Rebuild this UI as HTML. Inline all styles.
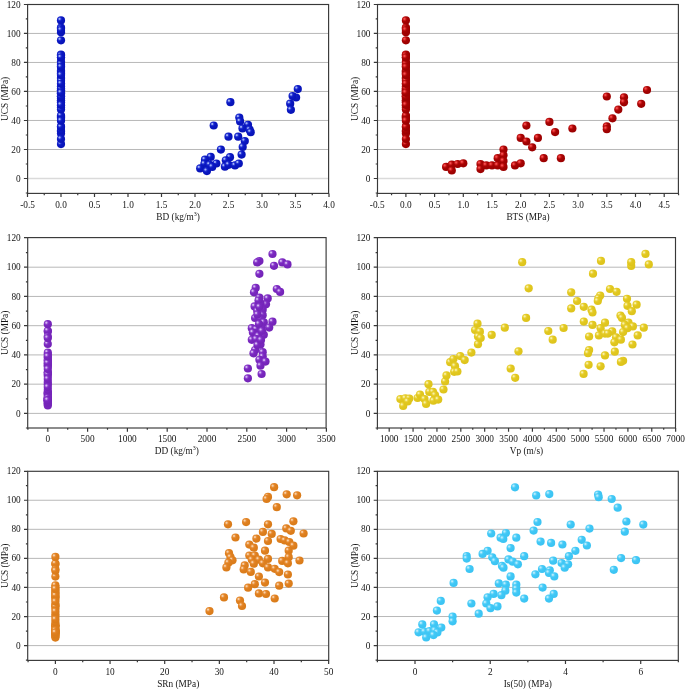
<!DOCTYPE html>
<html><head><meta charset="utf-8"><title>UCS scatter plots</title>
<style>
html,body{margin:0;padding:0;background:#fff;}
body{width:685px;height:689px;overflow:hidden;}
svg{display:block;will-change:transform;opacity:0.999;}
text{font-family:"Liberation Serif",serif;font-size:9.3px;fill:#161616;}
</style></head><body>
<svg width="685" height="689" viewBox="0 0 685 689">
<defs>
<radialGradient id="gb" cx="0.33" cy="0.33" r="0.6" fx="0.32" fy="0.31"><stop offset="0" stop-color="#a4b4f8"/><stop offset="0.1" stop-color="#a4b4f8"/><stop offset="0.3" stop-color="#2838d4"/><stop offset="0.52" stop-color="#0a18c4"/><stop offset="1" stop-color="#0814b8"/></radialGradient>
<circle id="sb" r="4.10" fill="url(#gb)"/>
<radialGradient id="gr" cx="0.33" cy="0.33" r="0.6" fx="0.32" fy="0.31"><stop offset="0" stop-color="#f45050"/><stop offset="0.1" stop-color="#f45050"/><stop offset="0.3" stop-color="#cc1c1c"/><stop offset="0.52" stop-color="#a80404"/><stop offset="1" stop-color="#9c0000"/></radialGradient>
<circle id="sr" r="4.10" fill="url(#gr)"/>
<radialGradient id="gp" cx="0.33" cy="0.33" r="0.6" fx="0.32" fy="0.31"><stop offset="0" stop-color="#d4b8f2"/><stop offset="0.1" stop-color="#d4b8f2"/><stop offset="0.3" stop-color="#9248d0"/><stop offset="0.52" stop-color="#7a28c0"/><stop offset="1" stop-color="#7424b8"/></radialGradient>
<circle id="sp" r="4.10" fill="url(#gp)"/>
<radialGradient id="gy" cx="0.33" cy="0.33" r="0.6" fx="0.32" fy="0.31"><stop offset="0" stop-color="#f8f0a8"/><stop offset="0.1" stop-color="#f8f0a8"/><stop offset="0.3" stop-color="#ebd440"/><stop offset="0.52" stop-color="#e2c820"/><stop offset="1" stop-color="#dec41c"/></radialGradient>
<circle id="sy" r="4.10" fill="url(#gy)"/>
<radialGradient id="go" cx="0.33" cy="0.33" r="0.6" fx="0.32" fy="0.31"><stop offset="0" stop-color="#f8d0a8"/><stop offset="0.1" stop-color="#f8d0a8"/><stop offset="0.3" stop-color="#e8923c"/><stop offset="0.52" stop-color="#e08020"/><stop offset="1" stop-color="#da7c1a"/></radialGradient>
<circle id="so" r="4.10" fill="url(#go)"/>
<radialGradient id="gc" cx="0.33" cy="0.33" r="0.6" fx="0.32" fy="0.31"><stop offset="0" stop-color="#b8ecfd"/><stop offset="0.1" stop-color="#b8ecfd"/><stop offset="0.3" stop-color="#64d4f9"/><stop offset="0.52" stop-color="#40c8f6"/><stop offset="1" stop-color="#3cc4f3"/></radialGradient>
<circle id="sc" r="4.10" fill="url(#gc)"/>
</defs>
<rect width="685" height="689" fill="#fff"/>
<g>
<line x1="27.60" y1="149.49" x2="328.60" y2="149.49" stroke="#b0b0b0" stroke-width="0.9"/>
<line x1="27.60" y1="120.48" x2="328.60" y2="120.48" stroke="#b0b0b0" stroke-width="0.9"/>
<line x1="27.60" y1="91.47" x2="328.60" y2="91.47" stroke="#b0b0b0" stroke-width="0.9"/>
<line x1="27.60" y1="62.46" x2="328.60" y2="62.46" stroke="#b0b0b0" stroke-width="0.9"/>
<line x1="27.60" y1="33.45" x2="328.60" y2="33.45" stroke="#b0b0b0" stroke-width="0.9"/>
<line x1="27.60" y1="178.50" x2="328.60" y2="178.50" stroke="#dadada" stroke-width="1.7"/>
<use href="#sb" x="61.0" y="65.0"/><use href="#sb" x="61.0" y="101.9"/><use href="#sb" x="61.0" y="61.5"/><use href="#sb" x="61.0" y="131.5"/><use href="#sb" x="61.0" y="117.2"/><use href="#sb" x="61.0" y="118.7"/><use href="#sb" x="61.0" y="100.5"/><use href="#sb" x="61.0" y="71.7"/><use href="#sb" x="61.0" y="20.4"/><use href="#sb" x="61.0" y="73.5"/><use href="#sb" x="61.0" y="83.8"/><use href="#sb" x="61.0" y="63.9"/><use href="#sb" x="61.0" y="54.5"/><use href="#sb" x="61.0" y="95.8"/><use href="#sb" x="61.0" y="144.1"/><use href="#sb" x="61.0" y="116.6"/><use href="#sb" x="61.0" y="78.8"/><use href="#sb" x="61.0" y="102.5"/><use href="#sb" x="61.0" y="77.7"/><use href="#sb" x="61.0" y="107.5"/><use href="#sb" x="61.0" y="72.1"/><use href="#sb" x="61.0" y="88.7"/><use href="#sb" x="61.0" y="93.4"/><use href="#sb" x="61.0" y="94.0"/><use href="#sb" x="61.0" y="105.2"/><use href="#sb" x="61.0" y="133.5"/><use href="#sb" x="61.0" y="90.3"/><use href="#sb" x="61.0" y="100.5"/><use href="#sb" x="61.0" y="74.1"/><use href="#sb" x="61.0" y="27.5"/><use href="#sb" x="61.0" y="98.5"/><use href="#sb" x="61.0" y="92.8"/><use href="#sb" x="61.0" y="130.4"/><use href="#sb" x="61.0" y="115.6"/><use href="#sb" x="61.0" y="66.6"/><use href="#sb" x="61.0" y="55.3"/><use href="#sb" x="61.0" y="96.4"/><use href="#sb" x="61.0" y="109.5"/><use href="#sb" x="61.0" y="96.4"/><use href="#sb" x="61.0" y="92.0"/><use href="#sb" x="61.0" y="93.6"/><use href="#sb" x="61.0" y="70.6"/><use href="#sb" x="61.0" y="126.4"/><use href="#sb" x="61.0" y="86.3"/><use href="#sb" x="61.0" y="90.3"/><use href="#sb" x="61.0" y="40.3"/><use href="#sb" x="61.0" y="28.5"/><use href="#sb" x="61.0" y="67.0"/><use href="#sb" x="61.0" y="88.7"/><use href="#sb" x="61.0" y="127.0"/><use href="#sb" x="61.0" y="96.8"/><use href="#sb" x="61.0" y="80.8"/><use href="#sb" x="61.0" y="57.5"/><use href="#sb" x="61.0" y="92.8"/><use href="#sb" x="61.0" y="120.7"/><use href="#sb" x="61.0" y="32.2"/><use href="#sb" x="61.0" y="30.1"/><use href="#sb" x="61.0" y="105.0"/><use href="#sb" x="61.0" y="83.8"/><use href="#sb" x="61.0" y="57.5"/><use href="#sb" x="61.0" y="139.0"/><use href="#sb" x="61.0" y="75.1"/><use href="#sb" x="297.8" y="89.1"/><use href="#sb" x="296.1" y="97.5"/><use href="#sb" x="292.6" y="96.1"/><use href="#sb" x="290.2" y="103.7"/><use href="#sb" x="290.9" y="109.8"/><use href="#sb" x="230.4" y="102.2"/><use href="#sb" x="239.3" y="117.6"/><use href="#sb" x="240.1" y="121.4"/><use href="#sb" x="248.0" y="124.8"/><use href="#sb" x="242.5" y="128.4"/><use href="#sb" x="249.6" y="129.7"/><use href="#sb" x="250.7" y="132.2"/><use href="#sb" x="213.7" y="125.5"/><use href="#sb" x="228.5" y="136.7"/><use href="#sb" x="238.2" y="136.7"/><use href="#sb" x="244.8" y="141.1"/><use href="#sb" x="242.7" y="147.0"/><use href="#sb" x="241.6" y="154.6"/><use href="#sb" x="220.9" y="149.6"/><use href="#sb" x="210.7" y="156.9"/><use href="#sb" x="205.0" y="159.7"/><use href="#sb" x="230.0" y="157.2"/><use href="#sb" x="225.8" y="160.3"/><use href="#sb" x="216.4" y="163.5"/><use href="#sb" x="204.4" y="163.9"/><use href="#sb" x="209.7" y="164.8"/><use href="#sb" x="212.2" y="166.9"/><use href="#sb" x="200.2" y="168.4"/><use href="#sb" x="206.9" y="171.1"/><use href="#sb" x="224.9" y="166.7"/><use href="#sb" x="228.7" y="164.8"/><use href="#sb" x="235.0" y="165.4"/><use href="#sb" x="238.8" y="163.5"/>
<rect x="27.60" y="4.50" width="301.00" height="188.90" fill="none" stroke="#383838" stroke-width="1.15"/>
<path d="M23.90 178.50H27.60M23.90 149.49H27.60M23.90 120.48H27.60M23.90 91.47H27.60M23.90 62.46H27.60M23.90 33.45H27.60M23.90 4.50H27.60M25.80 193.00H27.60M25.80 164.00H27.60M25.80 134.99H27.60M25.80 105.98H27.60M25.80 76.97H27.60M25.80 47.96H27.60M25.80 18.95H27.60M27.50 193.40V197.10M61.00 193.40V197.10M94.50 193.40V197.10M128.00 193.40V197.10M161.50 193.40V197.10M195.00 193.40V197.10M228.50 193.40V197.10M262.00 193.40V197.10M295.50 193.40V197.10M329.00 193.40V197.10M44.25 193.40V195.20M77.75 193.40V195.20M111.25 193.40V195.20M144.75 193.40V195.20M178.25 193.40V195.20M211.75 193.40V195.20M245.25 193.40V195.20M278.75 193.40V195.20M312.25 193.40V195.20" stroke="#383838" stroke-width="1.2" fill="none"/>
<text x="20.60" y="181.60" text-anchor="end">0</text><text x="20.60" y="152.59" text-anchor="end">20</text><text x="20.60" y="123.58" text-anchor="end">40</text><text x="20.60" y="94.57" text-anchor="end">60</text><text x="20.60" y="65.56" text-anchor="end">80</text><text x="20.60" y="36.55" text-anchor="end">100</text><text x="20.60" y="7.54" text-anchor="end">120</text>
<text x="27.50" y="208.00" text-anchor="middle" font-size="9.3">-0.5</text><text x="61.00" y="208.00" text-anchor="middle" font-size="9.3">0.0</text><text x="94.50" y="208.00" text-anchor="middle" font-size="9.3">0.5</text><text x="128.00" y="208.00" text-anchor="middle" font-size="9.3">1.0</text><text x="161.50" y="208.00" text-anchor="middle" font-size="9.3">1.5</text><text x="195.00" y="208.00" text-anchor="middle" font-size="9.3">2.0</text><text x="228.50" y="208.00" text-anchor="middle" font-size="9.3">2.5</text><text x="262.00" y="208.00" text-anchor="middle" font-size="9.3">3.0</text><text x="295.50" y="208.00" text-anchor="middle" font-size="9.3">3.5</text><text x="329.00" y="208.00" text-anchor="middle" font-size="9.3">4.0</text>
<text x="178.10" y="220.30" text-anchor="middle">BD (kg/m<tspan dy="-3.9" font-size="6">3</tspan><tspan dy="3.9">)</tspan></text>
<text transform="translate(8.10 98.95) rotate(-90)" text-anchor="middle">UCS (MPa)</text>
</g>
<g>
<line x1="377.50" y1="149.49" x2="678.40" y2="149.49" stroke="#b0b0b0" stroke-width="0.9"/>
<line x1="377.50" y1="120.48" x2="678.40" y2="120.48" stroke="#b0b0b0" stroke-width="0.9"/>
<line x1="377.50" y1="91.47" x2="678.40" y2="91.47" stroke="#b0b0b0" stroke-width="0.9"/>
<line x1="377.50" y1="62.46" x2="678.40" y2="62.46" stroke="#b0b0b0" stroke-width="0.9"/>
<line x1="377.50" y1="33.45" x2="678.40" y2="33.45" stroke="#b0b0b0" stroke-width="0.9"/>
<line x1="377.50" y1="178.50" x2="678.40" y2="178.50" stroke="#dadada" stroke-width="1.7"/>
<use href="#sr" x="405.9" y="65.0"/><use href="#sr" x="405.9" y="101.9"/><use href="#sr" x="405.9" y="61.5"/><use href="#sr" x="405.9" y="131.5"/><use href="#sr" x="405.9" y="117.2"/><use href="#sr" x="405.9" y="118.7"/><use href="#sr" x="405.9" y="100.5"/><use href="#sr" x="405.9" y="71.7"/><use href="#sr" x="405.9" y="20.4"/><use href="#sr" x="405.9" y="73.5"/><use href="#sr" x="405.9" y="83.8"/><use href="#sr" x="405.9" y="63.9"/><use href="#sr" x="405.9" y="54.5"/><use href="#sr" x="405.9" y="95.8"/><use href="#sr" x="405.9" y="144.1"/><use href="#sr" x="405.9" y="116.6"/><use href="#sr" x="405.9" y="78.8"/><use href="#sr" x="405.9" y="102.5"/><use href="#sr" x="405.9" y="77.7"/><use href="#sr" x="405.9" y="107.5"/><use href="#sr" x="405.9" y="72.1"/><use href="#sr" x="405.9" y="88.7"/><use href="#sr" x="405.9" y="93.4"/><use href="#sr" x="405.9" y="94.0"/><use href="#sr" x="405.9" y="105.2"/><use href="#sr" x="405.9" y="133.5"/><use href="#sr" x="405.9" y="90.3"/><use href="#sr" x="405.9" y="100.5"/><use href="#sr" x="405.9" y="74.1"/><use href="#sr" x="405.9" y="27.5"/><use href="#sr" x="405.9" y="98.5"/><use href="#sr" x="405.9" y="92.8"/><use href="#sr" x="405.9" y="130.4"/><use href="#sr" x="405.9" y="115.6"/><use href="#sr" x="405.9" y="66.6"/><use href="#sr" x="405.9" y="55.3"/><use href="#sr" x="405.9" y="96.4"/><use href="#sr" x="405.9" y="109.5"/><use href="#sr" x="405.9" y="96.4"/><use href="#sr" x="405.9" y="92.0"/><use href="#sr" x="405.9" y="93.6"/><use href="#sr" x="405.9" y="70.6"/><use href="#sr" x="405.9" y="126.4"/><use href="#sr" x="405.9" y="86.3"/><use href="#sr" x="405.9" y="90.3"/><use href="#sr" x="405.9" y="40.3"/><use href="#sr" x="405.9" y="28.5"/><use href="#sr" x="405.9" y="67.0"/><use href="#sr" x="405.9" y="88.7"/><use href="#sr" x="405.9" y="127.0"/><use href="#sr" x="405.9" y="96.8"/><use href="#sr" x="405.9" y="80.8"/><use href="#sr" x="405.9" y="57.5"/><use href="#sr" x="405.9" y="92.8"/><use href="#sr" x="405.9" y="120.7"/><use href="#sr" x="405.9" y="32.2"/><use href="#sr" x="405.9" y="30.1"/><use href="#sr" x="405.9" y="105.0"/><use href="#sr" x="405.9" y="83.8"/><use href="#sr" x="405.9" y="57.5"/><use href="#sr" x="405.9" y="139.0"/><use href="#sr" x="405.9" y="75.1"/><use href="#sr" x="446.1" y="166.9"/><use href="#sr" x="451.8" y="164.7"/><use href="#sr" x="451.8" y="170.5"/><use href="#sr" x="457.6" y="164.0"/><use href="#sr" x="463.3" y="163.3"/><use href="#sr" x="480.5" y="164.0"/><use href="#sr" x="480.5" y="169.1"/><use href="#sr" x="486.3" y="165.4"/><use href="#sr" x="492.0" y="165.4"/><use href="#sr" x="497.7" y="158.2"/><use href="#sr" x="497.7" y="165.4"/><use href="#sr" x="503.5" y="149.5"/><use href="#sr" x="503.5" y="155.3"/><use href="#sr" x="503.5" y="161.1"/><use href="#sr" x="503.5" y="166.9"/><use href="#sr" x="515.0" y="165.4"/><use href="#sr" x="520.7" y="163.3"/><use href="#sr" x="520.7" y="137.9"/><use href="#sr" x="526.4" y="125.6"/><use href="#sr" x="526.4" y="141.5"/><use href="#sr" x="532.2" y="147.3"/><use href="#sr" x="537.9" y="137.9"/><use href="#sr" x="543.7" y="158.2"/><use href="#sr" x="549.4" y="121.9"/><use href="#sr" x="555.1" y="132.1"/><use href="#sr" x="560.9" y="158.2"/><use href="#sr" x="572.4" y="128.5"/><use href="#sr" x="606.8" y="96.5"/><use href="#sr" x="606.8" y="126.3"/><use href="#sr" x="606.8" y="129.2"/><use href="#sr" x="612.5" y="118.3"/><use href="#sr" x="618.3" y="109.6"/><use href="#sr" x="624.0" y="97.3"/><use href="#sr" x="624.0" y="102.3"/><use href="#sr" x="641.2" y="103.8"/><use href="#sr" x="647.0" y="90.0"/>
<rect x="377.50" y="4.50" width="300.90" height="188.90" fill="none" stroke="#383838" stroke-width="1.15"/>
<path d="M373.80 178.50H377.50M373.80 149.49H377.50M373.80 120.48H377.50M373.80 91.47H377.50M373.80 62.46H377.50M373.80 33.45H377.50M373.80 4.50H377.50M375.70 193.00H377.50M375.70 164.00H377.50M375.70 134.99H377.50M375.70 105.98H377.50M375.70 76.97H377.50M375.70 47.96H377.50M375.70 18.95H377.50M377.20 193.40V197.10M405.90 193.40V197.10M434.60 193.40V197.10M463.30 193.40V197.10M492.00 193.40V197.10M520.70 193.40V197.10M549.40 193.40V197.10M578.10 193.40V197.10M606.80 193.40V197.10M635.50 193.40V197.10M664.20 193.40V197.10M391.55 193.40V195.20M420.25 193.40V195.20M448.95 193.40V195.20M477.65 193.40V195.20M506.35 193.40V195.20M535.05 193.40V195.20M563.75 193.40V195.20M592.45 193.40V195.20M621.15 193.40V195.20M649.85 193.40V195.20M678.55 193.40V195.20" stroke="#383838" stroke-width="1.2" fill="none"/>
<text x="370.50" y="181.60" text-anchor="end">0</text><text x="370.50" y="152.59" text-anchor="end">20</text><text x="370.50" y="123.58" text-anchor="end">40</text><text x="370.50" y="94.57" text-anchor="end">60</text><text x="370.50" y="65.56" text-anchor="end">80</text><text x="370.50" y="36.55" text-anchor="end">100</text><text x="370.50" y="7.54" text-anchor="end">120</text>
<text x="377.20" y="208.00" text-anchor="middle" font-size="9.3">-0.5</text><text x="405.90" y="208.00" text-anchor="middle" font-size="9.3">0.0</text><text x="434.60" y="208.00" text-anchor="middle" font-size="9.3">0.5</text><text x="463.30" y="208.00" text-anchor="middle" font-size="9.3">1.0</text><text x="492.00" y="208.00" text-anchor="middle" font-size="9.3">1.5</text><text x="520.70" y="208.00" text-anchor="middle" font-size="9.3">2.0</text><text x="549.40" y="208.00" text-anchor="middle" font-size="9.3">2.5</text><text x="578.10" y="208.00" text-anchor="middle" font-size="9.3">3.0</text><text x="606.80" y="208.00" text-anchor="middle" font-size="9.3">3.5</text><text x="635.50" y="208.00" text-anchor="middle" font-size="9.3">4.0</text><text x="664.20" y="208.00" text-anchor="middle" font-size="9.3">4.5</text>
<text x="527.95" y="220.30" text-anchor="middle">BTS (MPa)</text>
<text transform="translate(358.00 98.95) rotate(-90)" text-anchor="middle">UCS (MPa)</text>
</g>
<g>
<line x1="27.70" y1="384.16" x2="326.10" y2="384.16" stroke="#b0b0b0" stroke-width="0.9"/>
<line x1="27.70" y1="354.92" x2="326.10" y2="354.92" stroke="#b0b0b0" stroke-width="0.9"/>
<line x1="27.70" y1="325.68" x2="326.10" y2="325.68" stroke="#b0b0b0" stroke-width="0.9"/>
<line x1="27.70" y1="296.44" x2="326.10" y2="296.44" stroke="#b0b0b0" stroke-width="0.9"/>
<line x1="27.70" y1="267.20" x2="326.10" y2="267.20" stroke="#b0b0b0" stroke-width="0.9"/>
<line x1="27.70" y1="413.40" x2="326.10" y2="413.40" stroke="#b0b0b0" stroke-width="0.9"/>
<use href="#sp" x="47.8" y="395.9"/><use href="#sp" x="47.8" y="331.5"/><use href="#sp" x="47.8" y="399.5"/><use href="#sp" x="47.8" y="403.9"/><use href="#sp" x="47.8" y="398.8"/><use href="#sp" x="47.8" y="398.8"/><use href="#sp" x="47.8" y="394.7"/><use href="#sp" x="47.8" y="372.5"/><use href="#sp" x="47.8" y="400.2"/><use href="#sp" x="47.8" y="384.2"/><use href="#sp" x="47.8" y="376.1"/><use href="#sp" x="47.8" y="360.0"/><use href="#sp" x="47.8" y="392.9"/><use href="#sp" x="47.8" y="330.8"/><use href="#sp" x="47.8" y="392.9"/><use href="#sp" x="47.8" y="405.4"/><use href="#sp" x="47.8" y="324.2"/><use href="#sp" x="47.8" y="366.6"/><use href="#sp" x="47.8" y="336.6"/><use href="#sp" x="47.8" y="403.2"/><use href="#sp" x="47.8" y="365.2"/><use href="#sp" x="47.8" y="400.2"/><use href="#sp" x="47.8" y="357.8"/><use href="#sp" x="47.8" y="382.0"/><use href="#sp" x="47.8" y="344.0"/><use href="#sp" x="47.8" y="363.7"/><use href="#sp" x="47.8" y="360.8"/><use href="#sp" x="47.8" y="363.0"/><use href="#sp" x="47.8" y="372.5"/><use href="#sp" x="47.8" y="354.6"/><use href="#sp" x="47.8" y="392.9"/><use href="#sp" x="47.8" y="390.0"/><use href="#sp" x="47.8" y="401.7"/><use href="#sp" x="47.8" y="398.0"/><use href="#sp" x="47.8" y="387.1"/><use href="#sp" x="47.8" y="401.7"/><use href="#sp" x="47.8" y="398.0"/><use href="#sp" x="47.8" y="374.2"/><use href="#sp" x="47.8" y="352.7"/><use href="#sp" x="47.8" y="379.0"/><use href="#sp" x="47.8" y="356.4"/><use href="#sp" x="47.8" y="400.2"/><use href="#sp" x="47.8" y="338.1"/><use href="#sp" x="47.8" y="369.1"/><use href="#sp" x="47.8" y="400.2"/><use href="#sp" x="272.5" y="254.0"/><use href="#sp" x="259.4" y="261.1"/><use href="#sp" x="257.2" y="262.4"/><use href="#sp" x="282.3" y="262.4"/><use href="#sp" x="287.5" y="264.4"/><use href="#sp" x="274.0" y="265.8"/><use href="#sp" x="259.4" y="273.8"/><use href="#sp" x="276.8" y="289.0"/><use href="#sp" x="280.1" y="291.9"/><use href="#sp" x="255.7" y="287.9"/><use href="#sp" x="254.0" y="292.3"/><use href="#sp" x="259.4" y="297.7"/><use href="#sp" x="267.7" y="298.4"/><use href="#sp" x="266.0" y="304.3"/><use href="#sp" x="260.5" y="303.2"/><use href="#sp" x="254.6" y="306.4"/><use href="#sp" x="257.2" y="310.8"/><use href="#sp" x="262.7" y="309.7"/><use href="#sp" x="262.7" y="315.2"/><use href="#sp" x="255.1" y="318.0"/><use href="#sp" x="260.5" y="318.4"/><use href="#sp" x="263.8" y="322.4"/><use href="#sp" x="272.5" y="321.7"/><use href="#sp" x="251.8" y="328.2"/><use href="#sp" x="256.1" y="329.3"/><use href="#sp" x="261.6" y="327.6"/><use href="#sp" x="269.2" y="327.6"/><use href="#sp" x="252.9" y="332.6"/><use href="#sp" x="263.8" y="334.8"/><use href="#sp" x="258.3" y="335.9"/><use href="#sp" x="251.8" y="339.8"/><use href="#sp" x="256.1" y="339.1"/><use href="#sp" x="260.5" y="344.6"/><use href="#sp" x="255.1" y="350.0"/><use href="#sp" x="253.5" y="353.3"/><use href="#sp" x="262.7" y="352.2"/><use href="#sp" x="262.7" y="356.6"/><use href="#sp" x="259.4" y="359.8"/><use href="#sp" x="265.5" y="361.6"/><use href="#sp" x="260.5" y="365.7"/><use href="#sp" x="247.9" y="368.5"/><use href="#sp" x="261.6" y="374.0"/><use href="#sp" x="247.9" y="378.3"/><use href="#sp" x="258.5" y="300.5"/><use href="#sp" x="257.5" y="314.5"/><use href="#sp" x="259.0" y="324.0"/><use href="#sp" x="262.0" y="331.0"/><use href="#sp" x="257.5" y="345.0"/><use href="#sp" x="259.5" y="307.0"/><use href="#sp" x="261.0" y="340.0"/>
<rect x="27.70" y="237.60" width="298.40" height="190.40" fill="none" stroke="#383838" stroke-width="1.15"/>
<path d="M24.00 413.40H27.70M24.00 384.16H27.70M24.00 354.92H27.70M24.00 325.68H27.70M24.00 296.44H27.70M24.00 267.20H27.70M24.00 237.60H27.70M25.90 428.02H27.70M25.90 398.78H27.70M25.90 369.54H27.70M25.90 340.30H27.70M25.90 311.06H27.70M25.90 281.82H27.70M25.90 252.58H27.70M47.80 428.00V431.70M87.60 428.00V431.70M127.40 428.00V431.70M167.20 428.00V431.70M207.00 428.00V431.70M246.80 428.00V431.70M286.60 428.00V431.70M326.40 428.00V431.70M27.90 428.00V429.80M67.70 428.00V429.80M107.50 428.00V429.80M147.30 428.00V429.80M187.10 428.00V429.80M226.90 428.00V429.80M266.70 428.00V429.80M306.50 428.00V429.80" stroke="#383838" stroke-width="1.2" fill="none"/>
<text x="20.70" y="416.50" text-anchor="end">0</text><text x="20.70" y="387.26" text-anchor="end">20</text><text x="20.70" y="358.02" text-anchor="end">40</text><text x="20.70" y="328.78" text-anchor="end">60</text><text x="20.70" y="299.54" text-anchor="end">80</text><text x="20.70" y="270.30" text-anchor="end">100</text><text x="20.70" y="241.06" text-anchor="end">120</text>
<text x="47.80" y="441.90" text-anchor="middle" font-size="8.6">0</text><text x="87.60" y="441.90" text-anchor="middle" font-size="8.6">500</text><text x="127.40" y="441.90" text-anchor="middle" font-size="8.6">1000</text><text x="167.20" y="441.90" text-anchor="middle" font-size="8.6">1500</text><text x="207.00" y="441.90" text-anchor="middle" font-size="8.6">2000</text><text x="246.80" y="441.90" text-anchor="middle" font-size="8.6">2500</text><text x="286.60" y="441.90" text-anchor="middle" font-size="8.6">3000</text><text x="326.40" y="441.90" text-anchor="middle" font-size="8.6">3500</text>
<text x="176.90" y="454.30" text-anchor="middle">DD (kg/m<tspan dy="-3.9" font-size="6">3</tspan><tspan dy="3.9">)</tspan></text>
<text transform="translate(8.20 332.80) rotate(-90)" text-anchor="middle">UCS (MPa)</text>
</g>
<g>
<line x1="377.40" y1="384.16" x2="675.50" y2="384.16" stroke="#b0b0b0" stroke-width="0.9"/>
<line x1="377.40" y1="354.92" x2="675.50" y2="354.92" stroke="#b0b0b0" stroke-width="0.9"/>
<line x1="377.40" y1="325.68" x2="675.50" y2="325.68" stroke="#b0b0b0" stroke-width="0.9"/>
<line x1="377.40" y1="296.44" x2="675.50" y2="296.44" stroke="#b0b0b0" stroke-width="0.9"/>
<line x1="377.40" y1="267.20" x2="675.50" y2="267.20" stroke="#b0b0b0" stroke-width="0.9"/>
<line x1="377.40" y1="413.40" x2="675.50" y2="413.40" stroke="#b0b0b0" stroke-width="0.9"/>
<use href="#sy" x="400.4" y="399.1"/><use href="#sy" x="403.2" y="405.9"/><use href="#sy" x="405.3" y="398.3"/><use href="#sy" x="409.3" y="398.6"/><use href="#sy" x="407.7" y="401.5"/><use href="#sy" x="417.6" y="398.0"/><use href="#sy" x="420.0" y="394.6"/><use href="#sy" x="424.5" y="399.1"/><use href="#sy" x="426.1" y="403.9"/><use href="#sy" x="428.5" y="384.2"/><use href="#sy" x="429.3" y="391.9"/><use href="#sy" x="433.0" y="391.9"/><use href="#sy" x="435.0" y="395.1"/><use href="#sy" x="433.4" y="400.7"/><use href="#sy" x="438.2" y="399.6"/><use href="#sy" x="443.5" y="389.5"/><use href="#sy" x="445.1" y="381.5"/><use href="#sy" x="446.5" y="375.4"/><use href="#sy" x="450.2" y="362.2"/><use href="#sy" x="453.4" y="359.0"/><use href="#sy" x="455.0" y="366.2"/><use href="#sy" x="454.2" y="371.8"/><use href="#sy" x="457.4" y="371.5"/><use href="#sy" x="460.2" y="356.1"/><use href="#sy" x="464.7" y="360.1"/><use href="#sy" x="471.4" y="352.6"/><use href="#sy" x="478.0" y="344.2"/><use href="#sy" x="477.5" y="323.7"/><use href="#sy" x="475.1" y="330.1"/><use href="#sy" x="479.9" y="331.7"/><use href="#sy" x="478.0" y="336.5"/><use href="#sy" x="480.7" y="338.1"/><use href="#sy" x="491.7" y="334.9"/><use href="#sy" x="522.2" y="262.2"/><use href="#sy" x="528.7" y="288.3"/><use href="#sy" x="526.1" y="317.9"/><use href="#sy" x="504.8" y="327.7"/><use href="#sy" x="518.5" y="351.3"/><use href="#sy" x="510.7" y="368.5"/><use href="#sy" x="515.2" y="377.8"/><use href="#sy" x="548.3" y="331.0"/><use href="#sy" x="552.7" y="339.7"/><use href="#sy" x="563.6" y="328.0"/><use href="#sy" x="571.2" y="292.3"/><use href="#sy" x="571.2" y="308.4"/><use href="#sy" x="577.1" y="301.0"/><use href="#sy" x="583.8" y="306.8"/><use href="#sy" x="583.8" y="321.6"/><use href="#sy" x="591.5" y="309.7"/><use href="#sy" x="592.5" y="312.5"/><use href="#sy" x="592.5" y="324.9"/><use href="#sy" x="589.1" y="336.5"/><use href="#sy" x="589.1" y="350.0"/><use href="#sy" x="588.0" y="353.2"/><use href="#sy" x="588.6" y="364.8"/><use href="#sy" x="583.6" y="373.9"/><use href="#sy" x="593.0" y="273.7"/><use href="#sy" x="601.0" y="260.9"/><use href="#sy" x="600.2" y="295.5"/><use href="#sy" x="598.4" y="298.3"/><use href="#sy" x="597.8" y="301.0"/><use href="#sy" x="598.9" y="335.4"/><use href="#sy" x="600.6" y="328.2"/><use href="#sy" x="600.6" y="366.3"/><use href="#sy" x="605.0" y="322.7"/><use href="#sy" x="605.0" y="355.4"/><use href="#sy" x="605.0" y="333.6"/><use href="#sy" x="645.5" y="253.9"/><use href="#sy" x="648.8" y="264.4"/><use href="#sy" x="631.2" y="265.9"/><use href="#sy" x="631.2" y="262.2"/><use href="#sy" x="610.0" y="289.0"/><use href="#sy" x="616.6" y="291.8"/><use href="#sy" x="627.0" y="298.8"/><use href="#sy" x="627.5" y="305.8"/><use href="#sy" x="636.6" y="304.7"/><use href="#sy" x="631.8" y="311.2"/><use href="#sy" x="620.5" y="315.5"/><use href="#sy" x="622.0" y="317.9"/><use href="#sy" x="628.5" y="322.7"/><use href="#sy" x="624.8" y="324.9"/><use href="#sy" x="632.9" y="326.4"/><use href="#sy" x="627.5" y="328.2"/><use href="#sy" x="643.8" y="327.7"/><use href="#sy" x="612.2" y="331.4"/><use href="#sy" x="607.9" y="333.6"/><use href="#sy" x="623.1" y="332.1"/><use href="#sy" x="637.7" y="335.4"/><use href="#sy" x="616.1" y="337.3"/><use href="#sy" x="620.9" y="339.7"/><use href="#sy" x="614.4" y="342.3"/><use href="#sy" x="632.5" y="344.5"/><use href="#sy" x="614.8" y="351.7"/><use href="#sy" x="623.1" y="360.8"/><use href="#sy" x="620.9" y="361.9"/>
<rect x="377.40" y="237.60" width="298.10" height="190.40" fill="none" stroke="#383838" stroke-width="1.15"/>
<path d="M373.70 413.40H377.40M373.70 384.16H377.40M373.70 354.92H377.40M373.70 325.68H377.40M373.70 296.44H377.40M373.70 267.20H377.40M373.70 237.60H377.40M375.60 428.02H377.40M375.60 398.78H377.40M375.60 369.54H377.40M375.60 340.30H377.40M375.60 311.06H377.40M375.60 281.82H377.40M375.60 252.58H377.40M389.20 428.00V431.70M413.07 428.00V431.70M436.94 428.00V431.70M460.81 428.00V431.70M484.68 428.00V431.70M508.55 428.00V431.70M532.42 428.00V431.70M556.29 428.00V431.70M580.16 428.00V431.70M604.03 428.00V431.70M627.90 428.00V431.70M651.77 428.00V431.70M675.64 428.00V431.70M377.26 428.00V429.80M401.13 428.00V429.80M425.00 428.00V429.80M448.88 428.00V429.80M472.75 428.00V429.80M496.62 428.00V429.80M520.48 428.00V429.80M544.36 428.00V429.80M568.22 428.00V429.80M592.10 428.00V429.80M615.96 428.00V429.80M639.84 428.00V429.80M663.70 428.00V429.80" stroke="#383838" stroke-width="1.2" fill="none"/>
<text x="370.40" y="416.50" text-anchor="end">0</text><text x="370.40" y="387.26" text-anchor="end">20</text><text x="370.40" y="358.02" text-anchor="end">40</text><text x="370.40" y="328.78" text-anchor="end">60</text><text x="370.40" y="299.54" text-anchor="end">80</text><text x="370.40" y="270.30" text-anchor="end">100</text><text x="370.40" y="241.06" text-anchor="end">120</text>
<text x="389.20" y="441.90" text-anchor="middle" font-size="8.6">1000</text><text x="413.07" y="441.90" text-anchor="middle" font-size="8.6">1500</text><text x="436.94" y="441.90" text-anchor="middle" font-size="8.6">2000</text><text x="460.81" y="441.90" text-anchor="middle" font-size="8.6">2500</text><text x="484.68" y="441.90" text-anchor="middle" font-size="8.6">3000</text><text x="508.55" y="441.90" text-anchor="middle" font-size="8.6">3500</text><text x="532.42" y="441.90" text-anchor="middle" font-size="8.6">4000</text><text x="556.29" y="441.90" text-anchor="middle" font-size="8.6">4500</text><text x="580.16" y="441.90" text-anchor="middle" font-size="8.6">5000</text><text x="604.03" y="441.90" text-anchor="middle" font-size="8.6">5500</text><text x="627.90" y="441.90" text-anchor="middle" font-size="8.6">6000</text><text x="651.77" y="441.90" text-anchor="middle" font-size="8.6">6500</text><text x="675.64" y="441.90" text-anchor="middle" font-size="8.6">7000</text>
<text x="526.45" y="454.30" text-anchor="middle">Vp (m/s)</text>
<text transform="translate(357.90 332.80) rotate(-90)" text-anchor="middle">UCS (MPa)</text>
</g>
<g>
<line x1="27.70" y1="616.53" x2="328.70" y2="616.53" stroke="#b0b0b0" stroke-width="0.9"/>
<line x1="27.70" y1="587.46" x2="328.70" y2="587.46" stroke="#b0b0b0" stroke-width="0.9"/>
<line x1="27.70" y1="558.39" x2="328.70" y2="558.39" stroke="#b0b0b0" stroke-width="0.9"/>
<line x1="27.70" y1="529.32" x2="328.70" y2="529.32" stroke="#b0b0b0" stroke-width="0.9"/>
<line x1="27.70" y1="500.25" x2="328.70" y2="500.25" stroke="#b0b0b0" stroke-width="0.9"/>
<line x1="27.70" y1="645.60" x2="328.70" y2="645.60" stroke="#b0b0b0" stroke-width="0.9"/>
<use href="#so" x="55.4" y="628.2"/><use href="#so" x="55.4" y="564.2"/><use href="#so" x="55.4" y="631.8"/><use href="#so" x="55.4" y="636.2"/><use href="#so" x="55.4" y="631.1"/><use href="#so" x="55.4" y="631.1"/><use href="#so" x="55.4" y="627.0"/><use href="#so" x="55.4" y="604.9"/><use href="#so" x="55.4" y="632.5"/><use href="#so" x="55.4" y="616.5"/><use href="#so" x="55.4" y="608.5"/><use href="#so" x="55.4" y="592.5"/><use href="#so" x="55.4" y="625.3"/><use href="#so" x="55.4" y="563.5"/><use href="#so" x="55.4" y="625.3"/><use href="#so" x="55.4" y="637.6"/><use href="#so" x="55.4" y="556.9"/><use href="#so" x="55.4" y="599.1"/><use href="#so" x="55.4" y="569.3"/><use href="#so" x="55.4" y="635.4"/><use href="#so" x="55.4" y="597.6"/><use href="#so" x="55.4" y="632.5"/><use href="#so" x="55.4" y="590.4"/><use href="#so" x="55.4" y="614.3"/><use href="#so" x="55.4" y="576.6"/><use href="#so" x="55.4" y="596.2"/><use href="#so" x="55.4" y="593.3"/><use href="#so" x="55.4" y="595.5"/><use href="#so" x="55.4" y="604.9"/><use href="#so" x="55.4" y="587.2"/><use href="#so" x="55.4" y="625.3"/><use href="#so" x="55.4" y="622.3"/><use href="#so" x="55.4" y="634.0"/><use href="#so" x="55.4" y="630.3"/><use href="#so" x="55.4" y="619.4"/><use href="#so" x="55.4" y="634.0"/><use href="#so" x="55.4" y="630.3"/><use href="#so" x="55.4" y="606.6"/><use href="#so" x="55.4" y="585.3"/><use href="#so" x="55.4" y="611.4"/><use href="#so" x="55.4" y="588.9"/><use href="#so" x="55.4" y="632.5"/><use href="#so" x="55.4" y="570.7"/><use href="#so" x="55.4" y="601.6"/><use href="#so" x="55.4" y="632.5"/><use href="#so" x="274.1" y="487.2"/><use href="#so" x="286.7" y="494.3"/><use href="#so" x="297.1" y="495.3"/><use href="#so" x="268.0" y="496.9"/><use href="#so" x="266.6" y="499.0"/><use href="#so" x="276.8" y="507.1"/><use href="#so" x="228.0" y="524.3"/><use href="#so" x="246.1" y="522.1"/><use href="#so" x="293.4" y="521.3"/><use href="#so" x="268.0" y="524.3"/><use href="#so" x="286.3" y="528.4"/><use href="#so" x="290.8" y="530.8"/><use href="#so" x="262.9" y="531.9"/><use href="#so" x="271.7" y="533.9"/><use href="#so" x="303.6" y="533.5"/><use href="#so" x="235.5" y="537.5"/><use href="#so" x="256.4" y="538.6"/><use href="#so" x="268.0" y="541.0"/><use href="#so" x="280.6" y="539.0"/><use href="#so" x="284.7" y="540.4"/><use href="#so" x="289.3" y="542.0"/><use href="#so" x="293.4" y="545.7"/><use href="#so" x="249.3" y="544.6"/><use href="#so" x="253.8" y="547.7"/><use href="#so" x="265.0" y="550.7"/><use href="#so" x="288.7" y="550.7"/><use href="#so" x="229.0" y="553.2"/><use href="#so" x="230.5" y="557.2"/><use href="#so" x="232.5" y="560.3"/><use href="#so" x="228.4" y="562.7"/><use href="#so" x="226.4" y="567.4"/><use href="#so" x="249.3" y="555.6"/><use href="#so" x="254.8" y="555.6"/><use href="#so" x="251.8" y="559.7"/><use href="#so" x="258.9" y="559.7"/><use href="#so" x="268.0" y="558.9"/><use href="#so" x="262.9" y="563.3"/><use href="#so" x="253.8" y="563.7"/><use href="#so" x="268.0" y="567.4"/><use href="#so" x="244.7" y="565.4"/><use href="#so" x="243.7" y="569.4"/><use href="#so" x="250.8" y="571.9"/><use href="#so" x="288.7" y="557.2"/><use href="#so" x="282.2" y="560.9"/><use href="#so" x="287.9" y="563.3"/><use href="#so" x="299.5" y="560.5"/><use href="#so" x="274.7" y="568.8"/><use href="#so" x="279.2" y="572.1"/><use href="#so" x="287.9" y="574.5"/><use href="#so" x="258.9" y="576.5"/><use href="#so" x="265.0" y="582.6"/><use href="#so" x="254.8" y="584.2"/><use href="#so" x="248.1" y="587.7"/><use href="#so" x="279.2" y="585.7"/><use href="#so" x="288.7" y="583.6"/><use href="#so" x="258.9" y="593.4"/><use href="#so" x="266.0" y="594.0"/><use href="#so" x="274.7" y="598.5"/><use href="#so" x="224.0" y="597.4"/><use href="#so" x="240.0" y="600.5"/><use href="#so" x="242.0" y="606.0"/><use href="#so" x="209.5" y="611.1"/>
<rect x="27.70" y="471.30" width="301.00" height="189.10" fill="none" stroke="#383838" stroke-width="1.15"/>
<path d="M24.00 645.60H27.70M24.00 616.53H27.70M24.00 587.46H27.70M24.00 558.39H27.70M24.00 529.32H27.70M24.00 500.25H27.70M24.00 471.30H27.70M25.90 660.13H27.70M25.90 631.07H27.70M25.90 602.00H27.70M25.90 572.93H27.70M25.90 543.86H27.70M25.90 514.79H27.70M25.90 485.72H27.70M55.40 660.40V664.10M110.05 660.40V664.10M164.70 660.40V664.10M219.35 660.40V664.10M274.00 660.40V664.10M328.65 660.40V664.10M28.07 660.40V662.20M82.72 660.40V662.20M137.38 660.40V662.20M192.03 660.40V662.20M246.68 660.40V662.20M301.32 660.40V662.20" stroke="#383838" stroke-width="1.2" fill="none"/>
<text x="20.70" y="648.70" text-anchor="end">0</text><text x="20.70" y="619.63" text-anchor="end">20</text><text x="20.70" y="590.56" text-anchor="end">40</text><text x="20.70" y="561.49" text-anchor="end">60</text><text x="20.70" y="532.42" text-anchor="end">80</text><text x="20.70" y="503.35" text-anchor="end">100</text><text x="20.70" y="474.28" text-anchor="end">120</text>
<text x="55.40" y="674.70" text-anchor="middle" font-size="9.3">0</text><text x="110.05" y="674.70" text-anchor="middle" font-size="9.3">10</text><text x="164.70" y="674.70" text-anchor="middle" font-size="9.3">20</text><text x="219.35" y="674.70" text-anchor="middle" font-size="9.3">30</text><text x="274.00" y="674.70" text-anchor="middle" font-size="9.3">40</text><text x="328.65" y="674.70" text-anchor="middle" font-size="9.3">50</text>
<text x="178.20" y="686.50" text-anchor="middle">SRn (MPa)</text>
<text transform="translate(8.20 565.85) rotate(-90)" text-anchor="middle">UCS (MPa)</text>
</g>
<g>
<line x1="377.40" y1="616.53" x2="678.30" y2="616.53" stroke="#b0b0b0" stroke-width="0.9"/>
<line x1="377.40" y1="587.46" x2="678.30" y2="587.46" stroke="#b0b0b0" stroke-width="0.9"/>
<line x1="377.40" y1="558.39" x2="678.30" y2="558.39" stroke="#b0b0b0" stroke-width="0.9"/>
<line x1="377.40" y1="529.32" x2="678.30" y2="529.32" stroke="#b0b0b0" stroke-width="0.9"/>
<line x1="377.40" y1="500.25" x2="678.30" y2="500.25" stroke="#b0b0b0" stroke-width="0.9"/>
<line x1="377.40" y1="645.60" x2="678.30" y2="645.60" stroke="#b0b0b0" stroke-width="0.9"/>
<use href="#sc" x="515.0" y="487.3"/><use href="#sc" x="536.2" y="495.4"/><use href="#sc" x="537.5" y="522.0"/><use href="#sc" x="533.6" y="530.6"/><use href="#sc" x="540.6" y="541.6"/><use href="#sc" x="491.2" y="533.5"/><use href="#sc" x="505.9" y="533.0"/><use href="#sc" x="500.6" y="537.7"/><use href="#sc" x="503.3" y="539.0"/><use href="#sc" x="516.3" y="537.7"/><use href="#sc" x="510.6" y="548.1"/><use href="#sc" x="487.6" y="550.8"/><use href="#sc" x="482.6" y="553.9"/><use href="#sc" x="466.7" y="556.0"/><use href="#sc" x="466.7" y="558.6"/><use href="#sc" x="492.3" y="557.3"/><use href="#sc" x="494.9" y="561.2"/><use href="#sc" x="502.0" y="565.9"/><use href="#sc" x="503.5" y="567.7"/><use href="#sc" x="508.5" y="559.4"/><use href="#sc" x="512.7" y="561.7"/><use href="#sc" x="517.9" y="564.3"/><use href="#sc" x="524.2" y="556.2"/><use href="#sc" x="469.6" y="569.0"/><use href="#sc" x="510.6" y="576.4"/><use href="#sc" x="535.4" y="574.3"/><use href="#sc" x="542.0" y="569.0"/><use href="#sc" x="453.6" y="582.9"/><use href="#sc" x="498.8" y="583.4"/><use href="#sc" x="505.9" y="584.7"/><use href="#sc" x="516.3" y="584.7"/><use href="#sc" x="516.3" y="588.6"/><use href="#sc" x="516.3" y="592.6"/><use href="#sc" x="505.4" y="590.7"/><use href="#sc" x="501.4" y="595.2"/><use href="#sc" x="493.6" y="593.9"/><use href="#sc" x="487.6" y="597.3"/><use href="#sc" x="524.2" y="598.6"/><use href="#sc" x="486.3" y="603.5"/><use href="#sc" x="490.5" y="608.2"/><use href="#sc" x="497.5" y="606.4"/><use href="#sc" x="471.4" y="603.5"/><use href="#sc" x="478.7" y="613.7"/><use href="#sc" x="440.8" y="600.9"/><use href="#sc" x="436.9" y="610.6"/><use href="#sc" x="452.6" y="616.6"/><use href="#sc" x="452.6" y="621.3"/><use href="#sc" x="422.3" y="624.4"/><use href="#sc" x="434.0" y="624.4"/><use href="#sc" x="441.3" y="627.6"/><use href="#sc" x="418.6" y="632.3"/><use href="#sc" x="424.4" y="631.7"/><use href="#sc" x="429.6" y="631.2"/><use href="#sc" x="434.8" y="630.4"/><use href="#sc" x="437.4" y="632.5"/><use href="#sc" x="433.5" y="635.1"/><use href="#sc" x="426.2" y="637.5"/><use href="#sc" x="542.6" y="587.6"/><use href="#sc" x="549.3" y="494.1"/><use href="#sc" x="598.1" y="494.6"/><use href="#sc" x="598.7" y="497.2"/><use href="#sc" x="611.7" y="499.0"/><use href="#sc" x="617.7" y="507.7"/><use href="#sc" x="570.7" y="524.6"/><use href="#sc" x="589.5" y="528.6"/><use href="#sc" x="626.4" y="521.5"/><use href="#sc" x="643.3" y="524.6"/><use href="#sc" x="624.8" y="531.7"/><use href="#sc" x="551.1" y="542.9"/><use href="#sc" x="562.4" y="544.5"/><use href="#sc" x="581.7" y="539.8"/><use href="#sc" x="586.9" y="545.5"/><use href="#sc" x="575.4" y="550.8"/><use href="#sc" x="568.9" y="556.2"/><use href="#sc" x="553.2" y="560.7"/><use href="#sc" x="561.6" y="563.0"/><use href="#sc" x="568.1" y="564.3"/><use href="#sc" x="564.7" y="567.7"/><use href="#sc" x="621.1" y="558.1"/><use href="#sc" x="636.0" y="560.2"/><use href="#sc" x="613.8" y="569.8"/><use href="#sc" x="549.8" y="570.3"/><use href="#sc" x="549.0" y="573.0"/><use href="#sc" x="554.3" y="576.4"/><use href="#sc" x="553.7" y="593.9"/><use href="#sc" x="549.0" y="598.6"/>
<rect x="377.40" y="471.30" width="300.90" height="189.10" fill="none" stroke="#383838" stroke-width="1.15"/>
<path d="M373.70 645.60H377.40M373.70 616.53H377.40M373.70 587.46H377.40M373.70 558.39H377.40M373.70 529.32H377.40M373.70 500.25H377.40M373.70 471.30H377.40M375.60 660.13H377.40M375.60 631.07H377.40M375.60 602.00H377.40M375.60 572.93H377.40M375.60 543.86H377.40M375.60 514.79H377.40M375.60 485.72H377.40M415.00 660.40V664.10M490.24 660.40V664.10M565.48 660.40V664.10M640.72 660.40V664.10M377.38 660.40V662.20M452.62 660.40V662.20M527.86 660.40V662.20M603.10 660.40V662.20M678.34 660.40V662.20" stroke="#383838" stroke-width="1.2" fill="none"/>
<text x="370.40" y="648.70" text-anchor="end">0</text><text x="370.40" y="619.63" text-anchor="end">20</text><text x="370.40" y="590.56" text-anchor="end">40</text><text x="370.40" y="561.49" text-anchor="end">60</text><text x="370.40" y="532.42" text-anchor="end">80</text><text x="370.40" y="503.35" text-anchor="end">100</text><text x="370.40" y="474.28" text-anchor="end">120</text>
<text x="415.00" y="674.70" text-anchor="middle" font-size="9.3">0</text><text x="490.24" y="674.70" text-anchor="middle" font-size="9.3">2</text><text x="565.48" y="674.70" text-anchor="middle" font-size="9.3">4</text><text x="640.72" y="674.70" text-anchor="middle" font-size="9.3">6</text>
<text x="527.85" y="686.50" text-anchor="middle">Is(50) (MPa)</text>
<text transform="translate(357.90 565.85) rotate(-90)" text-anchor="middle">UCS (MPa)</text>
</g>
</svg>
</body></html>
